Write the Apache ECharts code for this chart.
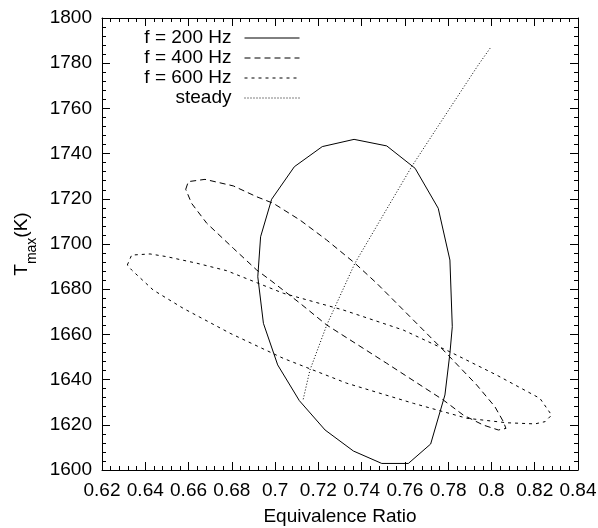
<!DOCTYPE html>
<html>
<head>
<meta charset="utf-8">
<script src="https://cdn.jsdelivr.net/npm/echarts@6/dist/echarts.min.js"></script>
<style>html,body{margin:0;padding:0;background:#fff}#c{width:598px;height:528px}</style>
</head>
<body>
<div id="c"></div>
<script>
// Series names
const seriesNames = ['f = 200 Hz', 'f = 400 Hz', 'f = 600 Hz', 'steady'];

// Data: [equivalence ratio, Tmax (K)]
const f200 = [[0.7365,1746.3],[0.7516,1743.4],[0.7647,1733.5],[0.7754,1715.8],[0.7808,1692.9],[0.7819,1663.4],[0.7808,1651.6],[0.7785,1633.2],[0.7719,1611.5],[0.7616,1602.9],[0.7493,1602.9],[0.7362,1608.4],[0.7231,1617.7],[0.7112,1630.7],[0.7012,1646.5],[0.6946,1664.9],[0.6920,1685.5],[0.6933,1703.2],[0.6984,1719.8],[0.7089,1734.2],[0.7218,1743.1],[0.7365,1746.3]];

const f400 = [[0.6587,1724.2],[0.6599,1727.6],[0.6676,1728.6],[0.6807,1725.7],[0.6915,1720.9],[0.6992,1718.0],[0.7115,1710.6],[0.7238,1701.8],[0.7369,1691.5],[0.7470,1682.6],[0.7624,1667.8],[0.7777,1653.1],[0.7932,1637.6],[0.8016,1628.0],[0.8055,1621.4],[0.8067,1618.4],[0.8032,1617.7],[0.7962,1619.9],[0.7870,1624.3],[0.7777,1631.0],[0.7516,1647.2],[0.7238,1664.2],[0.7115,1673.8],[0.6985,1683.5],[0.6915,1688.5],[0.6807,1698.1],[0.6684,1709.2],[0.6614,1718.0],[0.6587,1724.2]];

const f600 = [[0.6317,1690.7],[0.6337,1695.1],[0.6422,1695.6],[0.6499,1694.4],[0.6638,1691.5],[0.6776,1688.2],[0.7038,1678.2],[0.7315,1670.8],[0.7593,1661.9],[0.7808,1652.3],[0.8024,1642.0],[0.8224,1631.7],[0.8278,1624.3],[0.8248,1621.4],[0.8201,1620.4],[0.8071,1620.9],[0.7886,1622.9],[0.7639,1629.5],[0.7331,1638.4],[0.7038,1649.4],[0.6792,1660.5],[0.6576,1671.5],[0.6437,1679.6],[0.6337,1688.5],[0.6317,1690.7]];

const steady = [[0.7130,1631.3],[0.7161,1644.2],[0.7239,1664.2],[0.7369,1691.5],[0.7631,1734.2],[0.7747,1751.2],[0.7939,1779.2],[0.7998,1787.2]];

// Axis ranges / ticks
const xRange = [0.62, 0.84], xStep = 0.02;
const yRange = [1600, 1800], yStep = 20;

const FONT = 'Liberation Sans';
const FS = 19;
const black = '#000';

function axisCommon(showLabel) {
  return {
    axisLine: { show: true, lineStyle: { color: black, width: 1 } },
    axisTick: { show: true, inside: true, length: 8, lineStyle: { color: black, width: 1 } },
    minorTick: { show: true, splitNumber: 5, length: 4, lineStyle: { color: black, width: 1 } },
    splitLine: { show: false },
    minorSplitLine: { show: false },
    axisLabel: { show: showLabel, color: black, fontFamily: FONT, fontSize: FS }
  };
}

const chart = echarts.init(document.getElementById('c'), null, { renderer: 'canvas' });

const xBottom = Object.assign({
  type: 'value', min: xRange[0], max: xRange[1], interval: xStep, position: 'bottom',
  name: 'Equivalence Ratio', nameLocation: 'middle', nameGap: 37,
  nameTextStyle: { color: black, fontFamily: FONT, fontSize: FS }
}, axisCommon(true));
xBottom.axisLabel.margin = 11;
xBottom.axisLabel.formatter = v => String(+v.toFixed(2));

const xTop = Object.assign({
  type: 'value', min: xRange[0], max: xRange[1], interval: xStep, position: 'top'
}, axisCommon(false));

const yLeft = Object.assign({
  type: 'value', min: yRange[0], max: yRange[1], interval: yStep, position: 'left',
  name: '{a|T}{s|max}{a|(K)}', nameLocation: 'middle', nameGap: 68,
  nameTextStyle: {
    color: black, fontFamily: FONT, fontSize: FS,
    rich: {
      a: { fontFamily: FONT, fontSize: FS, color: black, lineHeight: 22, verticalAlign: 'middle' },
      s: { fontFamily: FONT, fontSize: 14, color: black, lineHeight: 22, verticalAlign: 'bottom', padding: [0, 0, -6, 0] }
    }
  }
}, axisCommon(true));
yLeft.axisLabel.margin = 10;
yLeft.axisLabel.formatter = v => String(Math.round(v));

const yRight = Object.assign({
  type: 'value', min: yRange[0], max: yRange[1], interval: yStep, position: 'right'
}, axisCommon(false));

const dashTypes = ['solid', [6, 4], [3, 4], [1, 2]];
const datasets = [f200, f400, f600, steady];

const series = seriesNames.map((n, i) => ({
  name: n,
  type: 'line',
  data: datasets[i],
  showSymbol: false,
  symbol: 'none',
  smooth: false,
  animation: false,
  xAxisIndex: 0, yAxisIndex: 0,
  lineStyle: { color: black, width: 1, type: dashTypes[i] },
  itemStyle: { color: black }
}));

chart.setOption({
  animation: false,
  backgroundColor: '#fff',
  grid: { left: 102, right: 20, top: 18, bottom: 58, containLabel: false, outerBoundsMode: 'none' },
  xAxis: [xBottom, xTop],
  yAxis: [yLeft, yRight],
  legend: {
    data: seriesNames,
    orient: 'vertical',
    align: 'right',
    right: 298,
    top: 28,
    padding: 0,
    itemGap: 0,
    itemWidth: 55,
    itemHeight: 14,
    selectedMode: false,
    itemStyle: { color: 'transparent', borderColor: 'transparent', borderWidth: 0, opacity: 0 },
    lineStyle: { width: 1, color: black },
    textStyle: { color: black, fontFamily: FONT, fontSize: FS, lineHeight: 20, padding: [0, 8, 0, 0] }
  },
  series: series
});
</script>
</body>
</html>
